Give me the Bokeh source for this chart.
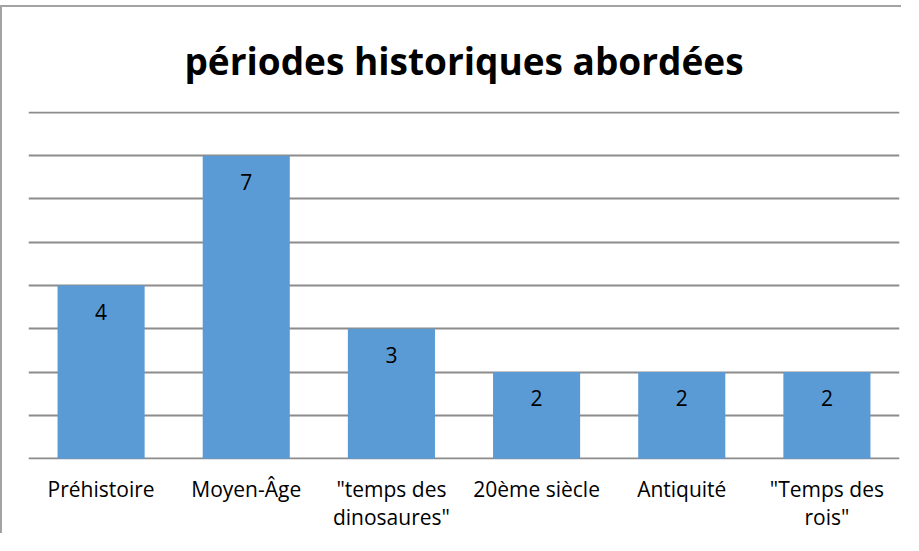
from bokeh.plotting import figure
from bokeh.models import ColumnDataSource, Range1d, FixedTicker, FactorRange
from bokeh.core.properties import value
from bokeh.embed import file_html
from bokeh.resources import INLINE

categories = ["Préhistoire", "Moyen-Âge", "\"temps des\ndinosaures\"", "20ème siècle", "Antiquité", "\"Temps des\nrois\""]
counts = [4, 7, 3, 2, 2, 2]
labels = [str(c) for c in counts]
y_ticks = [0, 1, 2, 3, 4, 5, 6, 7, 8]
title_text = "périodes historiques abordées"

source = ColumnDataSource(dict(cat=categories, val=counts, lab=labels))

p = figure(
    x_range=FactorRange(*categories, range_padding=0),
    y_range=Range1d(-0.02, 8.02),
    width=901, height=528,
    output_backend="svg", toolbar_location=None,
    min_border_left=26, min_border_right=4, min_border_top=103, min_border_bottom=76,
    margin=(5, 0, 0, 0),
    styles={"border-top": "2px solid #a3a3a3", "border-left": "2px solid #a3a3a3"},
)
p.title.text = title_text
p.title.align = "center"
p.title.text_font = "Open Sans"
p.title.text_font_size = "37px"
p.title.text_font_style = "bold"
p.title.text_color = "#000000"
p.title.standoff = 51

p.vbar(x="cat", top="val", width=0.6, bottom=0, source=source, fill_color="#5B9BD5", line_color=None)
p.text(x="cat", y="val", text="lab", source=source, text_align="center", text_baseline="middle",
       y_offset=26, text_font=value("Open Sans"), text_font_size="21px", text_color="#000000")

p.outline_line_color = None
p.xgrid.grid_line_color = None
p.yaxis.visible = False
p.yaxis.ticker = FixedTicker(ticks=y_ticks)
p.ygrid.ticker = FixedTicker(ticks=y_ticks)
p.ygrid.grid_line_color = "#8c8c8c"
p.ygrid.grid_line_width = 2

p.xaxis.axis_line_color = None
p.xaxis.major_tick_line_color = None
p.xaxis.minor_tick_line_color = None
p.xaxis.major_label_text_font = "Open Sans"
p.xaxis.major_label_text_font_size = "21px"
p.xaxis.major_label_text_color = "#000000"
p.xaxis.major_label_standoff = 9
p.xaxis.major_label_text_line_height = 1.0

open("out.html", "w").write(file_html(p, INLINE))
